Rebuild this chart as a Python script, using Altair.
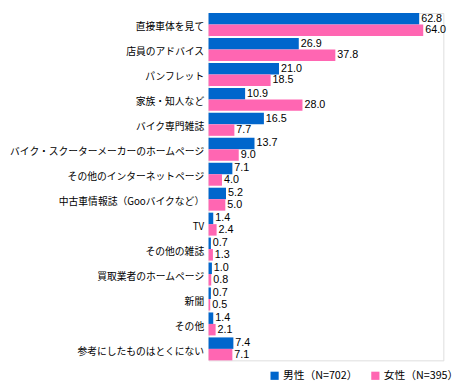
import altair as alt
import pandas as pd

categories = [
    "直接車体を見て",
    "店員のアドバイス",
    "パンフレット",
    "家族・知人など",
    "バイク専門雑誌",
    "バイク・スクーターメーカーのホームページ",
    "その他のインターネットページ",
    "中古車情報誌（Gooバイクなど）",
    "TV",
    "その他の雑誌",
    "買取業者のホームページ",
    "新聞",
    "その他",
    "参考にしたものはとくにない",
]
male = [62.8, 26.9, 21.0, 10.9, 16.5, 13.7, 7.1, 5.2, 1.4, 0.7, 1.0, 0.7, 1.4, 7.4]
female = [64.0, 37.8, 18.5, 28.0, 7.7, 9.0, 4.0, 5.0, 2.4, 1.3, 0.8, 0.5, 2.1, 7.1]
series = ["男性（N=702）", "女性（N=395）"]
colors = ["#0066CC", "#FF66B2"]

rows = []
for c, m, f in zip(categories, male, female):
    rows.append({"category": c, "series": series[0], "value": m, "label": f"{m:.1f}"})
    rows.append({"category": c, "series": series[1], "value": f, "label": f"{f:.1f}"})
df = pd.DataFrame(rows)

JP = "Noto Sans CJK JP"

base = alt.Chart(df).encode(
    y=alt.Y(
        "category:N",
        sort=categories,
        title=None,
        scale=alt.Scale(paddingInner=0.08, paddingOuter=0.0),
        axis=alt.Axis(
            domain=False,
            ticks=False,
            labelFont=JP,
            labelFontSize=10,
            labelColor="#000000",
            labelLimit=400,
            labelPadding=5,
            labelOffset=3,
        ),
    ),
    yOffset=alt.YOffset("series:N", sort=series),
)

bars = base.mark_bar().encode(
    x=alt.X("value:Q", scale=alt.Scale(domain=[0, 70]), axis=None),
    color=alt.Color(
        "series:N",
        sort=series,
        scale=alt.Scale(domain=series, range=colors),
        legend=alt.Legend(
            title=None,
            orient="none",
            direction="horizontal",
            legendX=62,
            legendY=365,
            symbolType="square",
            symbolSize=70,
            symbolStrokeWidth=0,
            symbolOpacity=1,
            labelFont=JP,
            labelFontSize=11,
            labelColor="#000000",
            columnPadding=12,
            labelOffset=3,
        ),
    ),
)

text = base.mark_text(
    align="left", baseline="middle", dx=2, font="Liberation Sans", fontSize=11, color="#000000"
).encode(x=alt.X("value:Q"), text="label:N")

chart = (
    alt.layer(bars, text)
    .properties(width=240, height=355, padding=0)
    .configure_view(stroke=None)
    .configure(background="#FFFFFF")
)

chart.save("out.html", embed_options={"renderer": "svg", "actions": False})
